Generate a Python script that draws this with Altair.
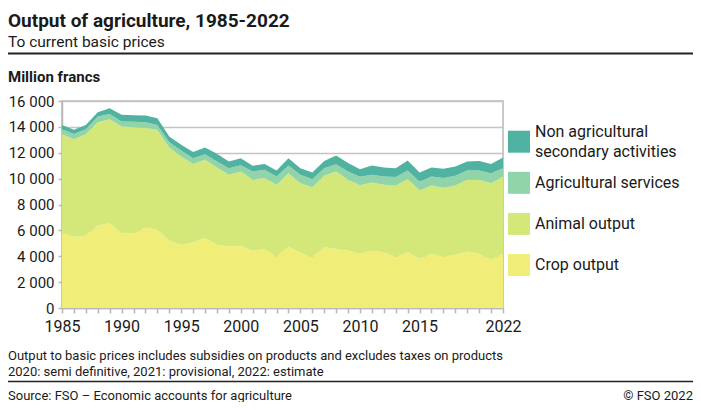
import altair as alt
import pandas as pd

years = list(range(1985, 2023))
crop = [5790, 5480, 5580, 6380, 6560, 5790, 5740, 6220, 6050, 5220,
        4890, 5070, 5420, 4890, 4760, 4810, 4420, 4560, 3940, 4760,
        4250, 3910, 4710, 4560, 4420, 4190, 4420, 4290, 3940, 4320,
        3810, 4190, 3980, 4120, 4370, 4190, 3730, 4200]
animal = [7640, 7570, 7850, 7980, 8030, 8230, 8240, 7700, 7720, 7180,
          6820, 6070, 6030, 5970, 5530, 5740, 5490, 5480, 5580, 5660,
          5400, 5430, 5510, 5990, 5490, 5290, 5280, 5230, 5500, 5660,
          5270, 5280, 5310, 5350, 5540, 5720, 5920, 5960]
services = [390, 390, 390, 440, 410, 390, 410, 440, 380, 420,
            460, 440, 430, 460, 520, 490, 640, 640, 640, 590,
            640, 620, 590, 570, 640, 660, 590, 640, 680, 650,
            700, 690, 750, 750, 720, 720, 770, 650]
nonagri = [330, 330, 330, 330, 440, 520, 510, 510, 520, 430,
           440, 470, 520, 600, 510, 540, 440, 460, 470, 570,
           520, 510, 560, 660, 650, 590, 720, 700, 690, 770,
           690, 700, 720, 720, 690, 740, 720, 820]

series_names = ["Non agricultural secondary activities", "Agricultural services",
                "Animal output", "Crop output"]
legend_labels = ["Non agricultural\nsecondary activities", "Agricultural services",
                 "Animal output", "Crop output"]
series_colors = ["#50b2a0", "#92d4aa", "#d4e87a", "#f0ee78"]
label_years = [1985, 1990, 1995, 2000, 2005, 2010, 2015, 2022]
y_ticks = list(range(0, 16001, 2000))

title_text = "Output of agriculture, 1985-2022"
subtitle_text = "To current basic prices"
unit_text = "Million francs"
note1 = "Output to basic prices includes subsidies on products and excludes taxes on products"
note2 = "2020: semi definitive, 2021: provisional, 2022: estimate"
source_text = "Source: FSO \u2013 Economic accounts for agriculture"
copy_text = "\u00a9 FSO 2022"

stack_order = ["Crop output", "Animal output", "Agricultural services",
               "Non agricultural secondary activities"]
rows = []
for i, y in enumerate(years):
    for order, (name, vals) in enumerate(zip(stack_order, [crop, animal, services, nonagri])):
        rows.append({"year": y, "series": name, "value": vals[i], "ord": order})
df = pd.DataFrame(rows)

legend_df = pd.DataFrame({
    "series": series_names,
    "label": legend_labels,
    "lines": [lab.count("\n") + 1 for lab in legend_labels],
})

FONT = "Roboto"
TXT = "#1a1a1a"
GRAY = "#b8b8b8"

color_scale = alt.Scale(domain=series_names, range=series_colors)

label_expr = ("indexof([" + ",".join(str(v) for v in label_years) +
              "], datum.value) >= 0 ? datum.value : ''")

area = alt.Chart(df).mark_area(opacity=1, interpolate="linear").encode(
    x=alt.X("year:Q", scale=alt.Scale(domain=[1985, 2022], nice=False, zero=False),
            axis=alt.Axis(values=years, labelExpr=label_expr, title=None, grid=False,
                          labelOverlap=False, labelFlush=False, tickSize=5,
                          tickColor=GRAY, tickWidth=1.5, domainColor=GRAY, domainWidth=1.5,
                          labelFont=FONT, labelFontSize=16, labelColor=TXT, labelPadding=5)),
    y=alt.Y("value:Q", stack="zero",
            scale=alt.Scale(domain=[0, 16000], nice=False),
            axis=alt.Axis(values=y_ticks, title=None, grid=True, gridColor="#c4c4c4",
                          gridWidth=1.5, labelExpr="replace(format(datum.value, ','), ',', ' ')",
                          labelFlush=False, labelOverlap=False, tickSize=4, tickColor=GRAY,
                          tickWidth=1.5, domainColor=GRAY, domainWidth=1.5,
                          labelFont=FONT, labelFontSize=15, labelColor=TXT, labelPadding=4)),
    color=alt.Color("series:N", scale=color_scale, legend=None),
    order=alt.Order("ord:Q"),
)

# legend built from the series list, placed to the right of the plot
leg_y = alt.Y("series:N", scale=alt.Scale(type="point", domain=series_names,
                                          range=[40.7, 164], padding=0), axis=None)
leg_swatch = alt.Chart(legend_df).mark_square(size=484, opacity=1, strokeWidth=0).encode(
    x=alt.value(457), y=leg_y,
    color=alt.Color("series:N", scale=color_scale, legend=None))
leg_text1 = alt.Chart(legend_df).transform_filter("datum.lines == 1").mark_text(
    align="left", baseline="middle", font=FONT, fontSize=16, color=TXT, lineBreak="\n"
).encode(x=alt.value(473), y=leg_y, text="label:N")
leg_text2 = alt.Chart(legend_df).transform_filter("datum.lines == 2").mark_text(
    align="left", baseline="middle", font=FONT, fontSize=16, color=TXT, lineBreak="\n",
    lineHeight=20, dy=-10
).encode(x=alt.value(473), y=leg_y, text="label:N")


def text_layer(txt, x, y, size, bold=False, align="left"):
    return alt.Chart(pd.DataFrame({"t": [txt]})).mark_text(
        align=align, baseline="alphabetic", font=FONT, fontSize=size,
        fontWeight="bold" if bold else "normal", color=TXT
    ).encode(text="t:N", x=alt.value(x), y=alt.value(y))


def hrule(y, w):
    return alt.Chart(pd.DataFrame({"a": [0]})).mark_rule(color="#222222", strokeWidth=w).encode(
        x=alt.value(-54), x2=alt.value(631), y=alt.value(y))


chart = alt.layer(
    area,
    leg_swatch, leg_text1, leg_text2,
    text_layer(title_text, -54, -74.5, 19, bold=True),
    text_layer(subtitle_text, -54, -54.5, 15.5),
    hrule(-47.5, 2),
    text_layer(unit_text, -54, -19.5, 15, bold=True),
    text_layer(note1, -54, 259, 13),
    text_layer(note2, -54, 275, 13),
    hrule(280.5, 1.5),
    text_layer(source_text, -54, 299, 13),
    text_layer(copy_text, 631, 299, 13, align="right"),
).resolve_scale(y="independent").properties(
    width=441, height=207,
    autosize=alt.AutoSizeParams(type="none"),
    padding={"left": 54, "top": 93, "right": 190, "bottom": 94},
    background="white",
).configure_view(stroke=GRAY, strokeWidth=1.5)

chart.save("out.html", embed_options={"renderer": "svg", "actions": False})
